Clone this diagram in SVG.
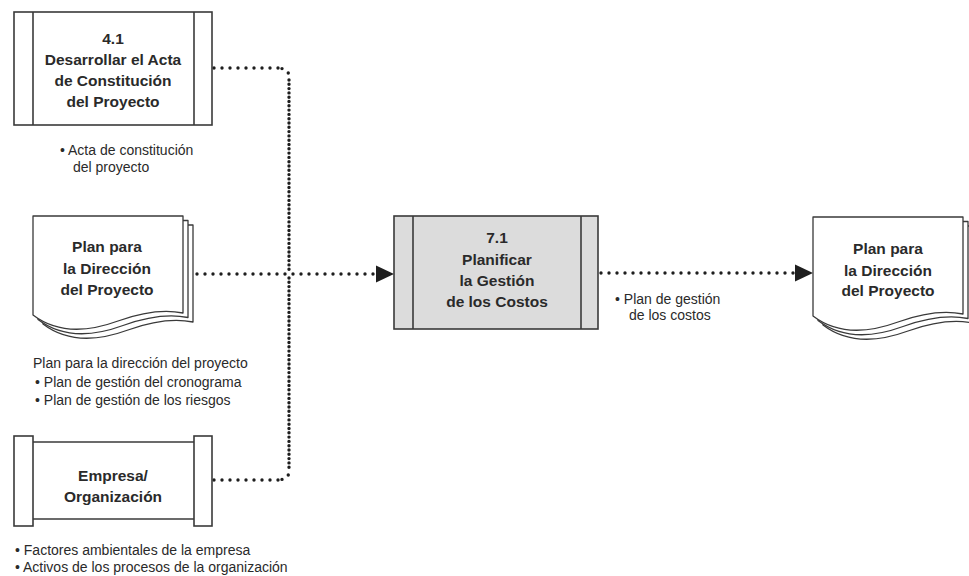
<svg xmlns="http://www.w3.org/2000/svg" width="969" height="576" viewBox="0 0 969 576">
  <style>
    .box { fill: #ffffff; stroke: #3a3a3a; stroke-width: 1.6; }
    .gray { fill: #dcdcdc; }
    .ln { stroke: #3a3a3a; stroke-width: 1.6; fill: none; }
    .page { fill: #ffffff; stroke: #3a3a3a; stroke-width: 1.3; stroke-linejoin: round; }
    .t { font-family: "Liberation Sans", Arial, sans-serif; font-weight: bold; font-size: 15.5px; fill: #2a2a2a; text-anchor: middle; }
    .s { font-family: "Liberation Sans", Arial, sans-serif; font-size: 14px; fill: #2a2a2a; }
    .dh { stroke: #1e1e1e; stroke-width: 3.4; stroke-linecap: round; stroke-dasharray: 0 8; fill: none; }
    .dv { stroke: #1e1e1e; stroke-width: 3.4; stroke-linecap: round; stroke-dasharray: 0 4.3; fill: none; }
    .arr { fill: #1e1e1e; }
  </style>
  <defs>
    <path id="doc" d="M0,0 H150 V97 C130,93 110,96 85,105 C55,116 25,118 0,99 Z"/>
  </defs>
  <rect width="969" height="576" fill="#ffffff"/>

  <g id="connectors">
    <path class="dh" d="M214,68 H280"/>
    <path class="dh" d="M282,68.6 Q289,70 289,77"/>
    <path class="dv" d="M289,80 V272"/>
    <path class="dh" d="M197,274 H376"/>
    <polygon class="arr" points="376,265.5 394,274 376,282.5"/>
    <path class="dv" d="M289,278 V471"/>
    <path class="dh" d="M282,479.4 Q289,478 289,471"/>
    <path class="dh" d="M214,480 H280"/>
    <path class="dh" d="M601,273 H795"/>
    <polygon class="arr" points="795,264.5 813,273 795,281.5"/>
  </g>

  <g id="node-4-1">
    <rect class="box" x="14" y="12" width="198" height="113"/>
    <line class="ln" x1="33" y1="12" x2="33" y2="125"/>
    <line class="ln" x1="194" y1="12" x2="194" y2="125"/>
    <text class="t" x="113" y="44">4.1</text>
    <text class="t" x="113" y="64.5">Desarrollar el Acta</text>
    <text class="t" x="113" y="85.5">de Constitución</text>
    <text class="t" x="113" y="106.5">del Proyecto</text>
    <text class="s" x="60" y="155">• Acta de constitución</text>
    <text class="s" x="73" y="172">del proyecto</text>
  </g>

  <g id="node-plan-in">
    <use href="#doc" class="page" transform="translate(43,225)"/>
    <use href="#doc" class="page" transform="translate(38,220.5)"/>
    <use href="#doc" class="page" transform="translate(33,216)"/>
    <text class="t" x="107" y="252">Plan para</text>
    <text class="t" x="107" y="273.5">la Dirección</text>
    <text class="t" x="107" y="295">del Proyecto</text>
    <text class="s" x="33" y="368">Plan para la dirección del proyecto</text>
    <text class="s" x="35" y="387">• Plan de gestión del cronograma</text>
    <text class="s" x="35" y="405">• Plan de gestión de los riesgos</text>
  </g>

  <g id="node-empresa">
    <rect class="box" x="14" y="436" width="19" height="90"/>
    <rect class="box" x="194" y="436" width="18" height="90"/>
    <line class="ln" x1="33" y1="442" x2="194" y2="442"/>
    <line class="ln" x1="33" y1="519" x2="194" y2="519"/>
    <text class="t" x="113" y="481">Empresa/</text>
    <text class="t" x="113" y="502">Organización</text>
    <text class="s" x="15" y="555">• Factores ambientales de la empresa</text>
    <text class="s" x="15" y="572">• Activos de los procesos de la organización</text>
  </g>

  <g id="node-7-1">
    <rect class="box gray" x="394" y="216" width="204" height="113"/>
    <line class="ln" x1="413" y1="216" x2="413" y2="329"/>
    <line class="ln" x1="581" y1="216" x2="581" y2="329"/>
    <text class="t" x="497" y="243">7.1</text>
    <text class="t" x="497" y="264.5">Planificar</text>
    <text class="t" x="497" y="286">la Gestión</text>
    <text class="t" x="497" y="307">de los Costos</text>
    <text class="s" x="615" y="304">• Plan de gestión</text>
    <text class="s" x="629" y="320">de los costos</text>
  </g>

  <g id="node-plan-out">
    <use href="#doc" class="page" transform="translate(823,226)"/>
    <use href="#doc" class="page" transform="translate(818,221.5)"/>
    <use href="#doc" class="page" transform="translate(813,217)"/>
    <text class="t" x="888" y="254">Plan para</text>
    <text class="t" x="888" y="275.5">la Dirección</text>
    <text class="t" x="888" y="296">del Proyecto</text>
  </g>
</svg>
